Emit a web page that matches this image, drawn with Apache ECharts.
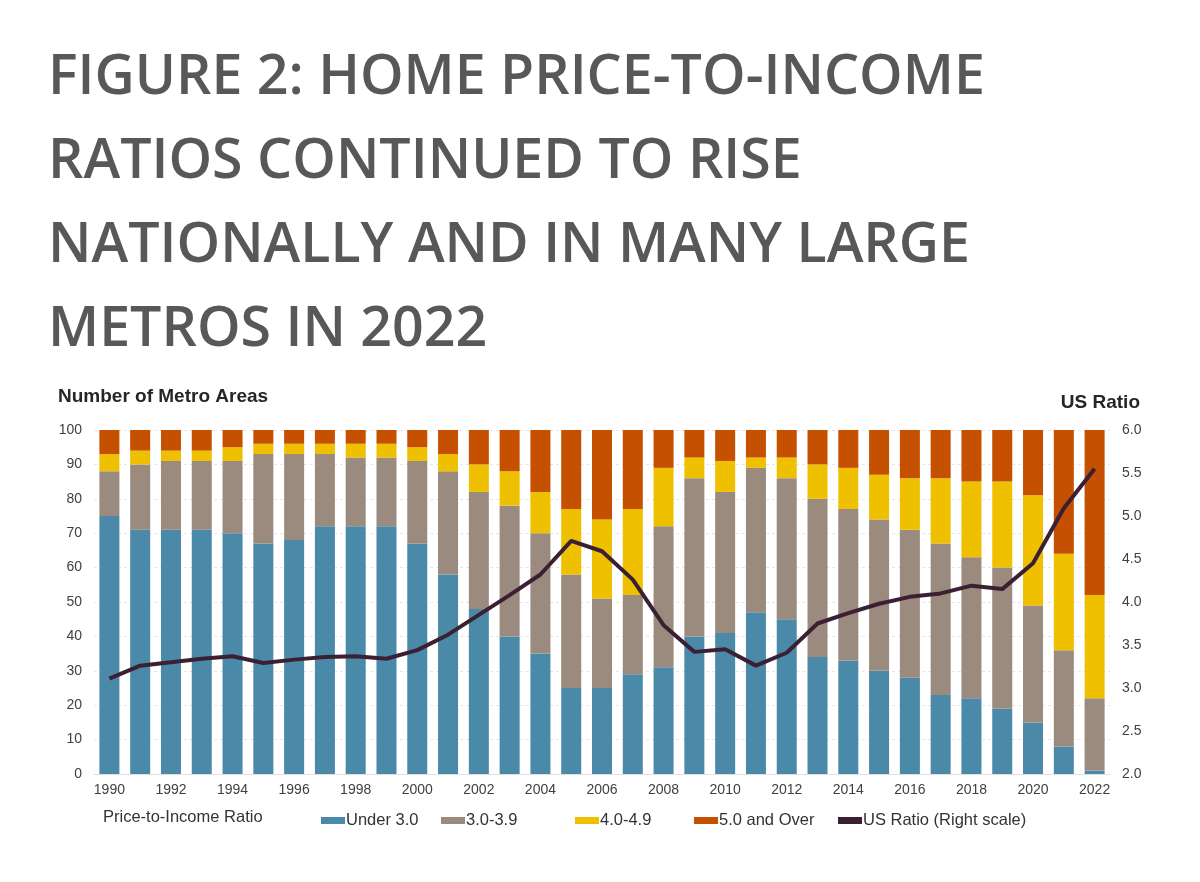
<!DOCTYPE html>
<html>
<head>
<meta charset="utf-8">
<script src="https://cdn.jsdelivr.net/npm/echarts@6/dist/echarts.min.js"></script>
<style>html,body{margin:0;padding:0;background:#fff;}#c{width:1200px;height:882px;}</style>
</head>
<body>
<div id="c"></div>
<script>
const years = ['1990','1991','1992','1993','1994','1995','1996','1997','1998','1999','2000','2001','2002','2003','2004','2005','2006','2007','2008','2009','2010','2011','2012','2013','2014','2015','2016','2017','2018','2019','2020','2021','2022'];
const under3 = [75,71,71,71,70,67,68,72,72,72,67,58,48,40,35,25,25,29,31,40,41,47,45,34,33,30,28,23,22,19,15,8,1];
const r3to39 = [13,19,20,20,21,26,25,21,20,20,24,30,34,38,35,33,26,23,41,46,41,42,41,46,44,44,43,44,41,41,34,28,21];
const r4to49 = [5,4,3,3,4,3,3,3,4,4,4,5,8,10,12,19,23,25,17,6,9,3,6,10,12,13,15,19,22,25,32,28,30];
const r5plus = [7,6,6,6,5,4,4,4,4,4,5,7,10,12,18,23,26,23,11,8,9,8,8,10,11,13,14,14,15,15,19,36,48];
const usRatio = [3.11,3.26,3.30,3.34,3.37,3.29,3.33,3.36,3.37,3.34,3.44,3.62,3.85,4.08,4.32,4.71,4.59,4.26,3.73,3.42,3.45,3.26,3.41,3.75,3.87,3.98,4.06,4.10,4.19,4.15,4.45,5.09,5.55];
const seriesNames = ['Under 3.0','3.0-3.9','4.0-4.9','5.0 and Over','US Ratio (Right scale)'];
const leftTicks = {min:0, max:100, interval:10};
const rightTicks = {min:2, max:6, interval:0.5};

const chart = echarts.init(document.getElementById('c'), null, {renderer:'canvas'});
const tickFont = {color:'#404040', fontSize:14, fontFamily:'Liberation Sans, Arial, sans-serif'};
const barSeries = (name, data, color) => ({
  name, type:'bar', stack:'total', data, barCategoryGap:'35%',
  itemStyle:{color}, yAxisIndex:0, emphasis:{disabled:true}
});
const legendLefts = [316, 436, 570, 689, 833];
const legends = seriesNames.map((n, i) => ({
  left: legendLefts[i], top: 807, itemWidth: 24, itemHeight: 7, icon: 'rect',
  textStyle: {color:'#333', fontSize:16.5, fontFamily:'Liberation Sans, Arial, sans-serif', padding:[0,0,0,-4]},
  data: [n]
}));
chart.setOption({
  animation:false,
  backgroundColor:'#fff',
  title:{
    text:'FIGURE 2: HOME PRICE-TO-INCOME\nRATIOS CONTINUED TO RISE\nNATIONALLY AND IN MANY LARGE\nMETROS IN 2022',
    left:43, top:31,
    textStyle:{fontFamily:'Open Sans, sans-serif', fontWeight:600, fontSize:55.5, lineHeight:84, color:'#58585a'}
  },
  grid:{left:94, right:90, top:430, bottom:108},
  legend: legends,
  graphic:[
    {type:'text', left:103, top:809, style:{text:'Price-to-Income Ratio', fill:'#333', font:'16.5px "Liberation Sans", Arial, sans-serif'}},
    {type:'text', left:58, top:387, style:{text:'Number of Metro Areas', fill:'#262626', font:'bold 19px "Liberation Sans", Arial, sans-serif'}},
    {type:'text', right:60, top:393, style:{text:'US Ratio', fill:'#262626', font:'bold 19px "Liberation Sans", Arial, sans-serif'}}
  ],
  xAxis:{
    type:'category', data:years,
    axisLine:{show:true, lineStyle:{color:'#e0e0e0'}},
    axisTick:{show:false},
    axisLabel:Object.assign({interval:1, margin:9}, tickFont)
  },
  yAxis:[
    {type:'value', min:leftTicks.min, max:leftTicks.max, interval:leftTicks.interval,
     axisLine:{show:false}, axisTick:{show:false},
     axisLabel:Object.assign({margin:12}, tickFont),
     splitLine:{show:true, lineStyle:{color:'#e6e6e6', type:[3,3]}}},
    {type:'value', min:rightTicks.min, max:rightTicks.max, interval:rightTicks.interval,
     axisLine:{show:false}, axisTick:{show:false},
     axisLabel:Object.assign({margin:12, formatter:v=>v.toFixed(1)}, tickFont),
     splitLine:{show:false}}
  ],
  series:[
    barSeries(seriesNames[0], under3, '#4a8aa8'),
    barSeries(seriesNames[1], r3to39, '#9b8b7e'),
    barSeries(seriesNames[2], r4to49, '#eec000'),
    barSeries(seriesNames[3], r5plus, '#c55000'),
    {name:seriesNames[4], type:'line', yAxisIndex:1, data:usRatio, showSymbol:false, symbol:'none',
     lineStyle:{color:'#3b2034', width:4}, itemStyle:{color:'#3b2034'}, z:5, emphasis:{disabled:true}}
  ]
});
</script>
</body>
</html>
